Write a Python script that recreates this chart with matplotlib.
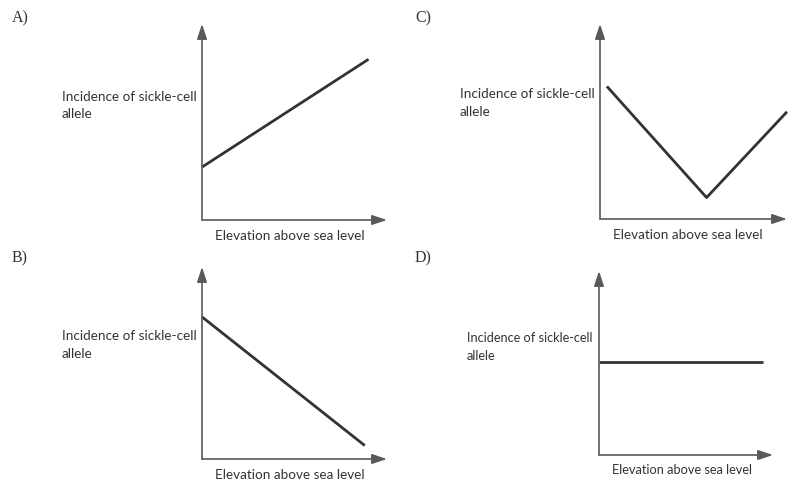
import matplotlib
matplotlib.use("Agg")
import matplotlib.pyplot as plt

W, H = 788, 485

# Data (arbitrary units: elevation 0-10, incidence 0-10)
panel_labels = ["A)", "B)", "C)", "D)"]
y_label = "Incidence of sickle-cell\nallele"
x_label = "Elevation above sea level"

a_x = [0.0, 9.0]
a_y = [2.7, 8.2]
b_x = [0.0, 8.8]
b_y = [7.4, 0.7]
c_x = [0.37, 5.7, 10.0]
c_y = [6.8, 1.1, 5.5]
d_x = [0.0, 9.4]
d_y = [5.05, 5.05]

series = [(a_x, a_y), (b_x, b_y), (c_x, c_y), (d_x, d_y)]

# Layout in pixels: (axis-origin x, x-arrow tip x, x-axis y, y-arrow tip y)
boxes = [
    (202, 387, 221, 25),
    (202, 387, 460, 268),
    (600, 787, 220, 25),
    (599, 773, 456, 272),
]
panel_pos = [(12, 22), (12, 262), (415, 22), (415, 262)]
ylab_pos = [(62, 91), (62, 330), (460, 88), (467, 332)]
xlab_pos = [(290, 236), (290, 475), (688, 235), (682, 470)]
font_sizes = [9.7, 9.7, 9.7, 9.2]

fig = plt.figure(figsize=(W / 100, H / 100), dpi=100)
fig.patch.set_facecolor("white")

axis_col = "#5a5a5a"
line_col = "#333333"
text_col = "#333333"

for i, ((x0, x1, yb, yt), (xs, ys)) in enumerate(zip(boxes, series)):
    ax = fig.add_axes([x0 / W, 1 - yb / H, (x1 - x0) / W, (yb - yt) / H])
    ax.set_xlim(0, 10)
    ax.set_ylim(0, 10)
    ax.axis("off")
    ax.plot(xs, ys, color=line_col, lw=2.0, solid_capstyle="butt", clip_on=False)
    ap = dict(arrowstyle="-|>,head_length=0.9,head_width=0.3", color=axis_col,
              lw=1.2, shrinkA=0, shrinkB=0)
    ax.annotate("", xy=(10, 0), xytext=(0, 0), arrowprops=ap, annotation_clip=False)
    ax.annotate("", xy=(0, 10), xytext=(0, 0), arrowprops=ap, annotation_clip=False)

    px, py = panel_pos[i]
    fig.text(px / W, 1 - py / H, panel_labels[i], family="Liberation Serif",
             fontsize=11.5, color=text_col, ha="left", va="baseline")
    lx, ly = ylab_pos[i]
    fig.text(lx / W, 1 - ly / H, y_label, family="Lato", fontsize=font_sizes[i],
             color=text_col, ha="left", va="top", linespacing=1.55)
    xx, xy = xlab_pos[i]
    fig.text(xx / W, 1 - xy / H, x_label, family="Lato", fontsize=font_sizes[i],
             color=text_col, ha="center", va="center")

fig.savefig("out.png", dpi=100, facecolor="white")
